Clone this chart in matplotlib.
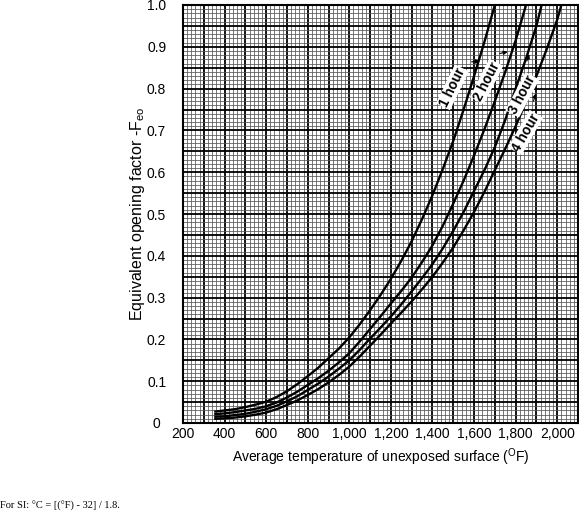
import matplotlib
matplotlib.use("Agg")
import matplotlib.pyplot as plt
from matplotlib.ticker import MultipleLocator

plt.rcParams["font.family"] = ["Liberation Sans", "DejaVu Sans"]
plt.rcParams["mathtext.fontset"] = "custom"
plt.rcParams["mathtext.rm"] = "Liberation Sans"
plt.rcParams["mathtext.it"] = "Liberation Sans:italic"

# average temperature of unexposed surface (F) vs equivalent opening factor
t_1h = [350, 400, 450, 500, 550, 600, 650, 700, 750, 800, 850, 900, 950, 1000, 1050, 1100, 1150,
        1200, 1250, 1300, 1350, 1400, 1450, 1500, 1550, 1600, 1650, 1700]
f_1h = [0.027, 0.030, 0.033, 0.038, 0.044, 0.051, 0.062, 0.076, 0.093, 0.112, 0.132, 0.155, 0.178,
        0.205, 0.236, 0.270, 0.306, 0.345, 0.388, 0.435, 0.488, 0.545, 0.608, 0.675, 0.750, 0.830,
        0.912, 1.0]

t_2h = [350, 400, 450, 500, 550, 600, 650, 700, 750, 800, 850, 900, 950, 1000, 1050, 1100, 1150,
        1200, 1250, 1300, 1350, 1400, 1450, 1500, 1550, 1600, 1650, 1700, 1750, 1800, 1850]
f_2h = [0.021, 0.023, 0.026, 0.030, 0.034, 0.040, 0.049, 0.061, 0.075, 0.091, 0.107, 0.125, 0.145,
        0.167, 0.195, 0.225, 0.255, 0.286, 0.316, 0.348, 0.385, 0.425, 0.472, 0.525, 0.580, 0.640,
        0.703, 0.770, 0.840, 0.915, 1.0]

t_3h = [350, 400, 450, 500, 550, 600, 650, 700, 750, 800, 850, 900, 950, 1000, 1050, 1100, 1150,
        1200, 1250, 1300, 1350, 1400, 1450, 1500, 1550, 1600, 1650, 1700, 1750, 1800, 1850, 1900, 1925]
f_3h = [0.015, 0.016, 0.019, 0.022, 0.027, 0.033, 0.041, 0.052, 0.064, 0.079, 0.094, 0.111, 0.130,
        0.150, 0.175, 0.202, 0.228, 0.255, 0.284, 0.315, 0.347, 0.380, 0.418, 0.460, 0.505, 0.555,
        0.605, 0.660, 0.725, 0.800, 0.872, 0.950, 1.0]

t_4h = [350, 400, 450, 500, 550, 600, 650, 700, 750, 800, 850, 900, 950, 1000, 1050, 1100, 1150,
        1200, 1250, 1300, 1350, 1400, 1450, 1500, 1550, 1600, 1650, 1700, 1750, 1800, 1850, 1900,
        1950, 2000, 2020]
f_4h = [0.010, 0.011, 0.013, 0.016, 0.020, 0.025, 0.033, 0.043, 0.054, 0.067, 0.081, 0.097, 0.115,
        0.135, 0.159, 0.185, 0.211, 0.238, 0.264, 0.291, 0.320, 0.350, 0.384, 0.420, 0.461, 0.505,
        0.553, 0.605, 0.656, 0.710, 0.768, 0.830, 0.895, 0.965, 1.0]

curve_names = ["1 hour", "2 hour", "3 hour", "4 hour"]
x_ticks = list(range(200, 2001, 200))
x_ticklabels = ["200", "400", "600", "800", "1,000", "1,200", "1,400", "1,600", "1,800", "2,000"]
y_ticklabels = ["0", "0.1", "0.2", "0.3", "0.4", "0.5", "0.6", "0.7", "0.8", "0.9", "1.0"]

fig = plt.figure(figsize=(5.79, 5.12), dpi=100)
ax = fig.add_axes([183 / 579, 1 - 423 / 512, 395 / 579, 418 / 512])

ax.set_xlim(200, 2100)
ax.set_ylim(0, 1.0)

ax.xaxis.set_minor_locator(MultipleLocator(20))
ax.yaxis.set_minor_locator(MultipleLocator(0.01))

# only label every 200 F and every 0.1
xt = list(range(200, 2101, 100))
ax.set_xticks(xt)
ax.set_xticklabels([x_ticklabels[x_ticks.index(v)] if v in x_ticks else "" for v in xt])
yt = [round(i * 0.05, 2) for i in range(21)]
ax.set_yticks(yt)
ax.set_yticklabels([y_ticklabels[i // 2] if i % 2 == 0 else "" for i in range(21)])

ax.grid(which="major", color="black", lw=1.3)
ax.grid(which="minor", color="#555555", lw=0.55)
ax.set_axisbelow(True)
for s in ax.spines.values():
    s.set_linewidth(1.5)

ax.tick_params(which="both", length=0)
ax.tick_params(axis="x", labelsize=10, pad=3)
ax.tick_params(axis="y", labelsize=10, pad=19)
for lab in ax.get_yticklabels():
    lab.set_horizontalalignment("center")

for t, f in [(t_1h, f_1h), (t_2h, f_2h), (t_3h, f_3h), (t_4h, f_4h)]:
    ax.plot(t, f, color="black", lw=1.7, solid_capstyle="butt", solid_joinstyle="round")

# curve labels and little leader arrows
label_pos = [(1496, 0.803, 64), (1660, 0.817, 63), (1832, 0.785, 62), (1848, 0.695, 60)]
arrow_pos = [((1588, 0.864), (1628, 0.866)), ((1724, 0.884), (1762, 0.888)),
             ((1854, 0.866), (1866, 0.882)), ((1886, 0.770), (1896, 0.788))]
for name, (lx, ly, rot), (a0, a1) in zip(curve_names, label_pos, arrow_pos):
    ax.text(lx, ly, name, rotation=rot, ha="center", va="center", fontsize=9.8,
            fontweight="bold", bbox=dict(fc="white", ec="none", pad=0.6))
    ax.annotate("", xy=a1, xytext=a0,
                arrowprops=dict(arrowstyle="-|>", color="black", lw=0.8,
                                mutation_scale=6, shrinkA=0, shrinkB=0))

ax.set_xlabel("Average temperature of unexposed surface ($^{\\rm O}$F)", fontsize=10, labelpad=4)
ax.set_ylabel("Equivalent opening factor -F$_{\\rm eo}$", fontsize=11.5)
ax.yaxis.set_label_coords(-0.090, 0.5)

fig.text(0.0, 1 - 506 / 512, "For SI: \u00b0C = [(\u00b0F) - 32] / 1.8.", fontsize=7.5,
         family=["Liberation Serif", "DejaVu Serif"], va="center", ha="left")

fig.savefig("out.png", dpi=100)
